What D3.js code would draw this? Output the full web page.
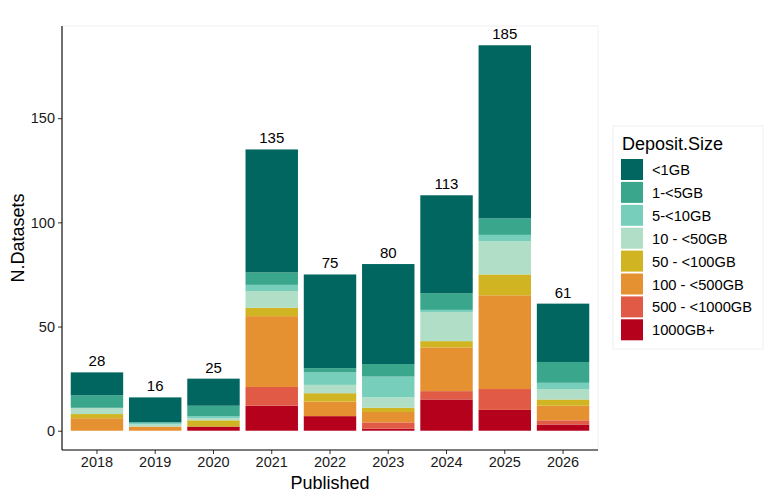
<!DOCTYPE html>
<html>
<head>
<meta charset="utf-8">
<script src="https://cdn.jsdelivr.net/npm/d3@7"></script>
<style>
  body { margin: 0; background: #fff; }
  text { font-family: Arial, "Liberation Sans", sans-serif; }
</style>
</head>
<body>
<svg id="chart" width="768" height="497"></svg>
<script>
// data
const years = ['2018', '2019', '2020', '2021', '2022', '2023', '2024', '2025', '2026'];
const sizes = ['<1GB', '1-<5GB', '5-<10GB', '10 - <50GB', '50 - <100GB', '100 - <500GB', '500 - <1000GB', '1000GB+'];
const sizeColors = ['#00665f', '#3aa68c', '#77cfbb', '#b1dec6', '#d0b421', '#e69131', '#e05a45', '#b5011c'];

// counts per year, one array per size class (same order as years)
const lt1 = [11, 12, 13, 59, 45, 48, 47, 83, 28];
const gb1to5 = [6, 0, 5, 6, 2, 6, 8, 8, 10];
const gb5to10 = [0, 1, 1, 3, 6, 10, 1, 3, 3];
const gb10to50 = [3, 1, 1, 8, 4, 5, 14, 16, 5];
const gb50to100 = [2, 0, 3, 4, 4, 2, 3, 10, 3];
const gb100to500 = [6, 2, 0, 34, 7, 5, 21, 45, 7];
const gb500to1000 = [0, 0, 0, 9, 0, 3, 4, 10, 2];
const gb1000plus = [0, 0, 2, 12, 7, 1, 15, 10, 3];

const series = [lt1, gb1to5, gb5to10, gb10to50, gb50to100, gb100to500, gb500to1000, gb1000plus];

// build rows for d3.stack
const rows = years.map((y, i) => {
  const r = {year: y};
  sizes.forEach((s, j) => { r[s] = series[j][i]; });
  r.total = d3.sum(series, a => a[i]);
  return r;
});

const margin = {top: 26, right: 170, bottom: 47, left: 62};
const width = 768 - margin.left - margin.right;
const height = 497 - margin.top - margin.bottom;

const svg = d3.select('#chart');
const chart = svg.append('g')
    .attr('transform', `translate(${margin.left},${margin.top})`);

// discrete x like ggplot: 0.6 expansion on each side, bars 0.9 wide
const xScale = d3.scaleBand()
    .domain(years)
    .range([0, width])
    .paddingInner(0.1)
    .paddingOuter(0.15);

const maxTotal = d3.max(rows, d => d.total);
const yScale = d3.scaleLinear()
    .domain([-maxTotal * 0.05, maxTotal * 1.05])
    .range([height, 0]);

// faint frame around the panel
chart.append('rect')
    .attr('x', 0).attr('y', 0)
    .attr('width', width).attr('height', height)
    .attr('fill', 'none')
    .attr('stroke', '#f0f0f0');

// stack bottom-up: biggest deposits at the bottom
const stack = d3.stack().keys(sizes.slice().reverse());
const stacked = stack(rows);

chart.selectAll('.layer')
    .data(stacked)
  .join('g')
    .attr('class', 'layer')
    .attr('fill', d => sizeColors[sizes.indexOf(d.key)])
  .selectAll('rect')
    .data(d => d)
  .join('rect')
    .attr('x', d => xScale(d.data.year))
    .attr('y', d => yScale(d[1]))
    .attr('height', d => yScale(d[0]) - yScale(d[1]))
    .attr('width', xScale.bandwidth());

// totals above bars
chart.selectAll('.total')
    .data(rows)
  .join('text')
    .attr('class', 'total')
    .attr('x', d => xScale(d.year) + xScale.bandwidth() / 2)
    .attr('y', d => yScale(d.total) - 6)
    .attr('text-anchor', 'middle')
    .attr('font-size', 15)
    .attr('fill', '#000')
    .text(d => d.total);

// axes
const xAxis = d3.axisBottom(xScale).tickSize(4).tickPadding(3);
const yAxis = d3.axisLeft(yScale).tickValues([0, 50, 100, 150]).tickSize(4).tickPadding(3);

const xAxisG = chart.append('g')
    .attr('transform', `translate(0,${height})`)
    .call(xAxis);
const yAxisG = chart.append('g').call(yAxis);

[xAxisG, yAxisG].forEach(g => {
  g.select('.domain').remove();
  g.selectAll('.tick line').attr('stroke', '#333');
  g.selectAll('.tick text')
      .attr('font-size', 14.5)
      .attr('fill', '#1a1a1a')
      .attr('font-family', 'Arial, "Liberation Sans", sans-serif');
});

chart.append('line')
    .attr('x1', 0).attr('x2', 0).attr('y1', 0).attr('y2', height)
    .attr('stroke', '#000').attr('stroke-width', 1.1);
chart.append('line')
    .attr('x1', 0).attr('x2', width).attr('y1', height).attr('y2', height)
    .attr('stroke', '#000').attr('stroke-width', 1.1);

// axis titles
svg.append('text')
    .attr('x', margin.left + width / 2)
    .attr('y', 489)
    .attr('text-anchor', 'middle')
    .attr('font-size', 18)
    .text('Published');

svg.append('text')
    .attr('transform', `translate(24,${margin.top + height / 2}) rotate(-90)`)
    .attr('text-anchor', 'middle')
    .attr('font-size', 18)
    .text('N.Datasets');

// legend
const legend = svg.append('g').attr('transform', 'translate(613,126)');
legend.append('rect')
    .attr('width', 150).attr('height', 223)
    .attr('fill', '#fff').attr('stroke', '#f0f0f0');
legend.append('text')
    .attr('x', 9).attr('y', 24)
    .attr('font-size', 18)
    .text('Deposit.Size');

const items = legend.selectAll('.item')
    .data(sizes)
  .join('g')
    .attr('class', 'item')
    .attr('transform', (d, i) => `translate(8,${33 + i * 22.9})`);
items.append('rect')
    .attr('width', 22).attr('height', 21)
    .attr('fill', (d, i) => sizeColors[i]);
items.append('text')
    .attr('x', 31).attr('y', 16)
    .attr('font-size', 14.7)
    .text(d => d);
</script>
</body>
</html>
